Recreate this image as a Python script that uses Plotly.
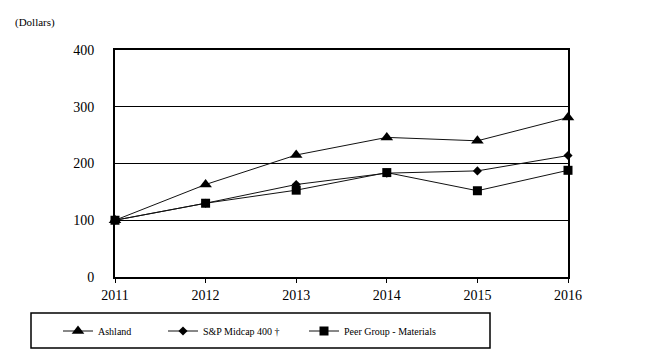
import plotly.graph_objects as go

years = [2011, 2012, 2013, 2014, 2015, 2016]
ashland = [100, 163, 215, 246, 240, 281]
sp_midcap = [100, 130, 163, 183, 187, 214]
peer_group = [100, 130, 153, 184, 152, 188]
y_ticks = [0, 100, 200, 300, 400]

FONT = "Liberation Serif"

fig = go.Figure()
series = [
    ("Ashland", ashland, "triangle-up", 11, "legend"),
    ("S&P Midcap 400 \u2020", sp_midcap, "diamond", 7, "legend2"),
    ("Peer Group - Materials", peer_group, "square", 9, "legend3"),
]
for name, vals, sym, size, leg in series:
    fig.add_trace(go.Scatter(
        x=years, y=vals, name=name, mode="lines+markers",
        line=dict(color="#111", width=1),
        marker=dict(symbol=sym, size=size, color="#000"),
        legend=leg, cliponaxis=False, showlegend=True,
    ))

W, H = 659, 357
L, R, T, B = 115, 91, 50, 80
pw, ph = W - L - R, H - T - B

def px_x(p):
    return (p - L) / pw

def px_y(p):
    return (H - B - p) / ph

legfont = dict(family=FONT, size=10, color="#000")
leg_common = dict(bgcolor="rgba(0,0,0,0)", borderwidth=0, font=legfont,
                  orientation="h", yanchor="middle", xanchor="left",
                  xref="container", yref="container")
fig.update_layout(
    width=W, height=H,
    margin=dict(l=L, r=R, t=T, b=B, autoexpand=False),
    paper_bgcolor="white", plot_bgcolor="white",
    font=dict(family=FONT, size=14, color="#000"),
    legend=dict(x=58 / W, y=1 - 331 / H, **leg_common),
    legend2=dict(x=163 / W, y=1 - 331 / H, **leg_common),
    legend3=dict(x=304 / W, y=1 - 331 / H, **leg_common),
    xaxis=dict(
        range=[2011, 2016], tickvals=years, ticktext=[str(y) for y in years],
        showline=True, linewidth=2, linecolor="#000", mirror=True,
        ticks="outside", ticklen=4, tickcolor="#000", tickwidth=1,
        showgrid=False, zeroline=False,
        tickfont=dict(family=FONT, size=14, color="#000"),
    ),
    yaxis=dict(
        range=[0, 400], tickvals=y_ticks,
        showline=True, linewidth=2, linecolor="#000", mirror=True,
        ticks="", ticklabelstandoff=16,
        showgrid=True, gridcolor="#000", gridwidth=1, zeroline=False,
        tickfont=dict(family=FONT, size=14, color="#000"),
    ),
    shapes=[dict(
        type="rect", xref="paper", yref="paper",
        x0=px_x(31), x1=px_x(490), y0=px_y(313), y1=px_y(348),
        line=dict(color="#000", width=1.5), fillcolor="rgba(0,0,0,0)",
    )],
    annotations=[dict(
        text="(Dollars)", xref="paper", yref="paper",
        x=px_x(13), y=px_y(23), xanchor="left", yanchor="middle",
        showarrow=False, font=dict(family=FONT, size=11, color="#000"),
    )],
)

fig.write_html(
    "out.html",
    config={"displayModeBar": False},
    post_script="document.body.style.margin='0';document.body.style.overflow='hidden';",
)
